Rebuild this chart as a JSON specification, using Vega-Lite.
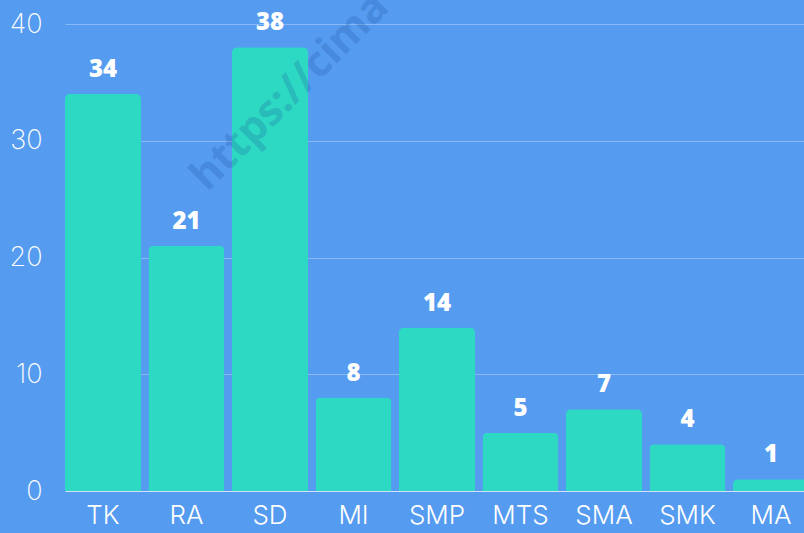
{
  "$schema": "https://vega.github.io/schema/vega-lite/v6.json",
  "autosize": "none",
  "width": 744,
  "height": 467,
  "padding": {"left": 65, "top": 24, "right": 0, "bottom": 42},
  "background": "#559bf0",
  "config": {
    "view": {"stroke": null},
    "font": "Open Sans"
  },
  "data": {
    "values": [
      {"cat": "TK", "value": 34},
      {"cat": "RA", "value": 21},
      {"cat": "SD", "value": 38},
      {"cat": "MI", "value": 8},
      {"cat": "SMP", "value": 14},
      {"cat": "MTS", "value": 5},
      {"cat": "SMA", "value": 7},
      {"cat": "SMK", "value": 4},
      {"cat": "MA", "value": 1}
    ]
  },
  "encoding": {
    "x": {
      "field": "cat",
      "type": "nominal",
      "sort": null,
      "scale": {"paddingInner": 0.09, "paddingOuter": 0},
      "axis": {
        "title": null,
        "labelAngle": 0,
        "labelFont": "Inter",
        "labelFontSize": 26,
        "labelFontWeight": 300,
        "labelColor": "white",
        "labelPadding": 11,
        "ticks": false,
        "domainColor": "#ffffff",
        "domainOpacity": 0.6,
        "domainWidth": 1
      }
    },
    "y": {
      "field": "value",
      "type": "quantitative",
      "scale": {"domain": [0, 40], "nice": false},
      "axis": {
        "title": null,
        "values": [0, 10, 20, 30, 40],
        "labelFont": "Inter",
        "labelFontSize": 27,
        "labelFontWeight": 200,
        "labelColor": "white",
        "labelPadding": 23,
        "ticks": false,
        "domain": false,
        "gridColor": "#ffffff",
        "gridOpacity": 0.3
      }
    }
  },
  "layer": [
    {
      "mark": {"type": "bar", "color": "#2ed9c3", "cornerRadiusTopLeft": 5, "cornerRadiusTopRight": 5}
    },
    {
      "mark": {"type": "text", "baseline": "alphabetic", "dy": -17, "fontSize": 24, "fontWeight": 800, "color": "white"},
      "encoding": {"text": {"field": "value", "type": "quantitative"}}
    },
    {
      "data": {"values": [{"cat": "SD", "value": 32.5, "label": "https://cima"}]},
      "mark": {"type": "text", "angle": -45, "fontSize": 42, "fontWeight": "bold", "color": "#1a4f9c", "opacity": 0.22, "dx": 28, "align": "center", "baseline": "middle"},
      "encoding": {"text": {"field": "label"}}
    }
  ]
}
